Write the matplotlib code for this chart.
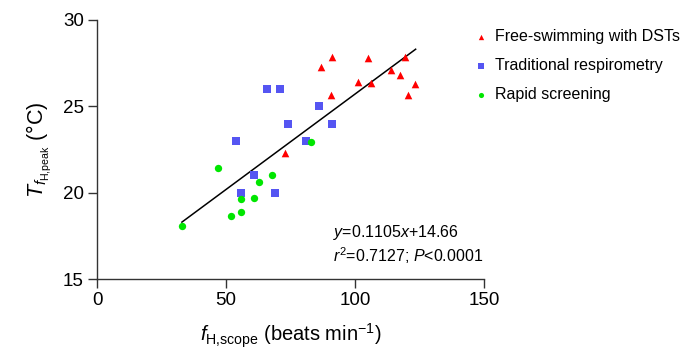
import matplotlib
matplotlib.use("Agg")
import matplotlib.pyplot as plt
import numpy as np

plt.rcParams['font.family'] = ['Liberation Sans', 'DejaVu Sans']
plt.rcParams['mathtext.fontset'] = 'custom'
plt.rcParams['mathtext.rm'] = 'Liberation Sans'
plt.rcParams['mathtext.it'] = 'Liberation Sans:italic'

# --- data ---
dst_x = [91.0, 86.8, 105.2, 119.4, 113.8, 117.4, 101.3, 106.1, 123.3, 90.7, 120.7, 72.8]
dst_y = [27.87, 27.26, 27.78, 27.84, 27.10, 26.80, 26.39, 26.35, 26.29, 25.67, 25.67, 22.28]

resp_x = [65.9, 70.9, 85.9, 73.9, 91.0, 53.9, 80.9, 60.9, 55.9, 69.0]
resp_y = [26.0, 26.0, 25.0, 24.0, 24.0, 23.0, 23.0, 21.0, 20.0, 20.0]

rapid_x = [82.9, 46.9, 67.8, 62.9, 55.9, 60.9, 55.9, 51.8, 32.9]
rapid_y = [22.92, 21.43, 21.02, 20.62, 19.62, 19.71, 18.88, 18.63, 18.09]

slope, intercept = 0.1105, 14.66
fit_range = [32.9, 123.5]

fig = plt.figure(figsize=(6.94, 3.55), dpi=100)
ax = fig.add_axes([0.1398, 0.214, 0.5576, 0.7297])

fx = np.array(fit_range)
ax.plot(fx, slope * fx + intercept, color='black', lw=1.1, zorder=2)

ax.scatter(dst_x, dst_y, marker='^', s=30, color='#ff0000', lw=0,
           label='Free-swimming with DSTs', zorder=3)
ax.scatter(resp_x, resp_y, marker='s', s=28, color='#5555f2', lw=0,
           label='Traditional respirometry', zorder=3)
ax.scatter(rapid_x, rapid_y, marker='o', s=28, color='#00e600', lw=0,
           label='Rapid screening', zorder=3)

ax.set_xlim(0, 150)
ax.set_ylim(15, 30)
ax.set_xticks([0, 50, 100, 150])
ax.set_yticks([15, 20, 25, 30])
for s in ['top', 'right']:
    ax.spines[s].set_visible(False)
for s in ['left', 'bottom']:
    ax.spines[s].set_color('#333333')
    ax.spines[s].set_linewidth(1.0)
ax.tick_params(length=6.5, width=1.0, color='#333333', labelsize=13.5, pad=3)

ax.set_xlabel(r'$f_{\mathrm{H{,}scope}}$ (beats min$^{\mathrm{-1}}$)', fontsize=14.5, labelpad=9)
ax.set_ylabel(r'$T_{f_{\mathrm{H{,}peak}}}$ (°C)', fontsize=15.5, labelpad=7)

ax.text(91.5, 17.72, r'$y$=0.1105$x$+14.66', fontsize=11.5, va='center')
ax.text(91.5, 16.35, r'$r^{2}$=0.7127; $P$<0.0001', fontsize=11.5, va='center')

fig.legend(loc='upper left', bbox_to_anchor=(0.677, 0.937), frameon=False,
           fontsize=11.5, handlelength=0.6, handletextpad=0.55, labelspacing=0.88,
           markerscale=0.7, borderaxespad=0)

fig.savefig('out.png', dpi=100)
